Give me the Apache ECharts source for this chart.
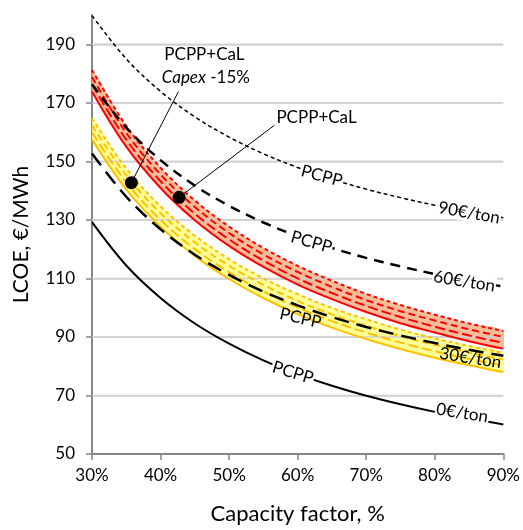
<!DOCTYPE html>
<html>
<head>
<meta charset="utf-8">
<script src="https://cdn.jsdelivr.net/npm/echarts@6/dist/echarts.min.js"></script>
<style>
  html, body { margin: 0; padding: 0; background: #fff; }
  #chart { width: 523px; height: 530px; }
</style>
</head>
<body>
<div id="chart"></div>
<script>
// capacity factor, %
const capacityFactor = [30, 35, 40, 45, 50, 55, 60, 65, 70, 75, 80, 85, 90]

// PCPP at different CO2 prices (€/MWh)
const pcpp0 = [129.2, 114.4, 103.3, 94.6, 87.7, 82.0, 77.3, 73.3, 69.9, 67.0, 64.4, 62.1, 60.1]
const pcpp30 = [152.7, 137.9, 126.8, 118.1, 111.2, 105.5, 100.8, 96.8, 93.4, 90.5, 87.9, 85.6, 83.6]
const pcpp60 = [176.3, 161.5, 150.4, 141.7, 134.8, 129.1, 124.4, 120.4, 117.0, 114.1, 111.5, 109.2, 107.2]
const pcpp90 = [199.8, 185.0, 173.9, 165.2, 158.3, 152.6, 147.9, 143.9, 140.5, 137.6, 135.0, 132.7, 130.7]

// PCPP+CaL band (solid -> long dash -> dash -> dotted)
const cal0 = [173.9, 155.0, 140.9, 129.9, 121.1, 113.9, 107.9, 102.9, 98.5, 94.7, 91.5, 88.5, 86.0]
const cal30 = [176.3, 157.4, 143.2, 132.1, 123.3, 116.1, 110.0, 105.0, 100.6, 96.8, 93.5, 90.5, 88.0]
const cal60 = [178.8, 159.7, 145.5, 134.4, 125.5, 118.2, 112.2, 107.1, 102.6, 98.8, 95.6, 92.6, 90.0]
const cal90 = [181.2, 162.1, 147.8, 136.6, 127.7, 120.4, 114.3, 109.2, 104.7, 100.9, 97.6, 94.6, 92.0]

// PCPP+CaL Capex -15% band
const capex0 = [157.5, 140.4, 127.7, 117.7, 109.8, 103.3, 97.8, 93.2, 89.3, 85.9, 82.9, 80.3, 78.0]
const capex30 = [159.9, 142.8, 130.0, 120.0, 112.1, 105.5, 100.1, 95.4, 91.5, 88.1, 85.1, 82.5, 80.2]
const capex60 = [162.3, 145.2, 132.3, 122.3, 114.3, 107.8, 102.3, 97.7, 93.8, 90.3, 87.3, 84.7, 82.3]
const capex90 = [164.7, 147.5, 134.6, 124.6, 116.6, 110.0, 104.6, 99.9, 96.0, 92.5, 89.5, 86.9, 84.5]

// horizontal grid lines
const yGrid = [70, 90, 110, 130, 150, 170, 190]

// highlighted points and where their leader lines end
const calPoint = [42.7, 137.7]
const calLeaderEnd = [56.6, 162.3]
const capexPoint = [35.75, 142.7]
const capexLeaderEnd = [42.6, 173.8]

// text on the curves: [cf, lcoe, text, angle, white background]
const curveLabels = [
  [63.5, 145.0, 'PCPP', -15, true],
  [85.0, 132.4, '90€/ton', -10, true],
  [62.0, 122.4, 'PCPP', -16, true],
  [84.3, 109.0, '60€/ton', -9, true],
  [60.4, 96.4, 'PCPP', -13, false],
  [85.2, 82.8, '30€/ton', -9, false],
  [59.3, 77.8, 'PCPP', -17, true],
  [84.0, 64.0, '0€/ton', -9, true]
]

const FONT = 'Lato, "Noto Sans", sans-serif'
const RED = '#FF0000'
const GOLD = '#FFC000'

const pairs = arr => capacityFactor.map((cf, i) => [cf, arr[i]])

const line = (name, arr, color, width, type) => ({
  name,
  type: 'line',
  data: pairs(arr),
  smooth: 0.35,
  symbol: 'none',
  z: 4,
  lineStyle: { color, width, type }
})

// shaded band between the lowest and highest line of a group
const band = (name, bottom, top, fill) => ({
  name,
  type: 'custom',
  z: 1,
  silent: true,
  clip: true,
  data: [[capacityFactor[0], bottom[0]]],
  renderItem: (params, api) => {
    const upper = capacityFactor.map((cf, i) => api.coord([cf, top[i]]))
    const lower = capacityFactor.map((cf, i) => api.coord([cf, bottom[i]])).reverse()
    return {
      type: 'polygon',
      shape: { points: upper.concat(lower), smooth: 0.35 },
      style: { fill: fill, opacity: 0.85 }
    }
  }
})

const chart = echarts.init(document.getElementById('chart'))

const option = {
  animation: false,
  textStyle: { fontFamily: FONT },
  grid: { left: 92, right: 19, top: 15, bottom: 71 },
  xAxis: {
    type: 'value',
    min: 30,
    max: 90,
    interval: 10,
    name: 'Capacity factor, %',
    nameLocation: 'middle',
    nameGap: 49,
    nameTextStyle: { fontSize: 22, color: '#000', fontFamily: FONT },
    axisLine: { lineStyle: { color: '#868686', width: 2 } },
    axisTick: { show: true, length: 6, lineStyle: { color: '#868686', width: 1.5 } },
    axisLabel: { formatter: '{value}%', fontSize: 17, color: '#000', margin: 13, fontFamily: FONT },
    splitLine: { show: false }
  },
  yAxis: {
    type: 'value',
    min: 50,
    max: 200,
    interval: 20,
    name: 'LCOE, €/MWh',
    nameLocation: 'middle',
    nameGap: 60,
    nameRotate: 90,
    nameTextStyle: { fontSize: 21, color: '#000', fontFamily: FONT },
    axisLine: { show: true, lineStyle: { color: '#868686', width: 2 } },
    axisTick: { show: true, length: 6, lineStyle: { color: '#868686', width: 1.5 } },
    axisLabel: { fontSize: 17, color: '#000', margin: 17, showMaxLabel: false, fontFamily: FONT },
    splitLine: { show: true, showMinLine: false, showMaxLine: false, lineStyle: { color: '#D0D0D0', width: 1.5 } }
  },
  series: [
    band('cal band', cal0, cal90, '#F6B088'),
    band('capex band', capex0, capex90, '#FFFF88'),

    // grid lines as thin filled strips, over the bands and under the curves
    {
      name: 'grid',
      type: 'custom',
      z: 2,
      silent: true,
      data: yGrid.map(v => [30, v]),
      renderItem: (params, api) => {
        const v = api.value(1)
        const p0 = api.coord([30, v])
        const p1 = api.coord([90, v])
        return {
          type: 'rect',
          shape: { x: p0[0], y: p0[1] - 0.75, width: p1[0] - p0[0], height: 1.5 },
          style: { fill: '#D0D0D0' }
        }
      }
    },

    line('cal 90', cal90, RED, 2, [4, 3]),
    line('cal 60', cal60, RED, 2, [7, 4]),
    line('cal 30', cal30, RED, 2, [10, 4]),
    line('cal 0', cal0, RED, 2, 'solid'),

    line('capex 90', capex90, GOLD, 2, [4, 3]),
    line('capex 60', capex60, GOLD, 2, [7, 4]),
    line('capex 30', capex30, GOLD, 2, [10, 4]),
    line('capex 0', capex0, GOLD, 2, 'solid'),

    line('PCPP 90', pcpp90, '#000', 1.5, [4, 3]),
    line('PCPP 60', pcpp60, '#000', 2.5, [10, 7]),
    line('PCPP 30', pcpp30, '#000', 2.5, [15, 8]),
    line('PCPP 0', pcpp0, '#000', 2, 'solid'),

    // leader lines
    {
      type: 'line',
      data: [calPoint, calLeaderEnd],
      symbol: 'none',
      lineStyle: { color: '#000', width: 1 },
      z: 5
    },
    {
      type: 'line',
      data: [capexPoint, capexLeaderEnd],
      symbol: 'none',
      lineStyle: { color: '#000', width: 1 },
      z: 5
    },
    {
      type: 'scatter',
      data: [calPoint, capexPoint],
      symbolSize: 13,
      itemStyle: { color: '#000', opacity: 1 },
      z: 6
    },

    // text on curves and annotations
    {
      type: 'scatter',
      symbolSize: 0,
      itemStyle: { opacity: 1 },
      z: 7,
      data: curveLabels.map(d => ({
        value: [d[0], d[1]],
        label: {
          show: true,
          position: 'inside',
          formatter: d[2],
          rotate: d[3],
          fontSize: 17,
          color: '#000',
          fontFamily: FONT,
          backgroundColor: d[4] ? '#fff' : 'transparent',
          padding: [0, 1]
        }
      })).concat([
        {
          value: [46.4, 186.6],
          label: { show: true, position: 'inside', formatter: 'PCPP+CaL', fontSize: 17, color: '#000', fontFamily: FONT }
        },
        {
          value: [46.6, 178.5],
          label: {
            show: true,
            position: 'inside',
            formatter: '{i|Capex}{n| -15%}',
            rich: {
              i: { fontStyle: 'italic', fontSize: 17, fontFamily: FONT, color: '#000' },
              n: { fontSize: 17, fontFamily: FONT, color: '#000' }
            }
          }
        },
        {
          value: [62.75, 165.0],
          label: { show: true, position: 'inside', formatter: 'PCPP+CaL', fontSize: 17, color: '#000', fontFamily: FONT }
        }
      ])
    }
  ]
}

chart.setOption(option)
</script>
</body>
</html>
